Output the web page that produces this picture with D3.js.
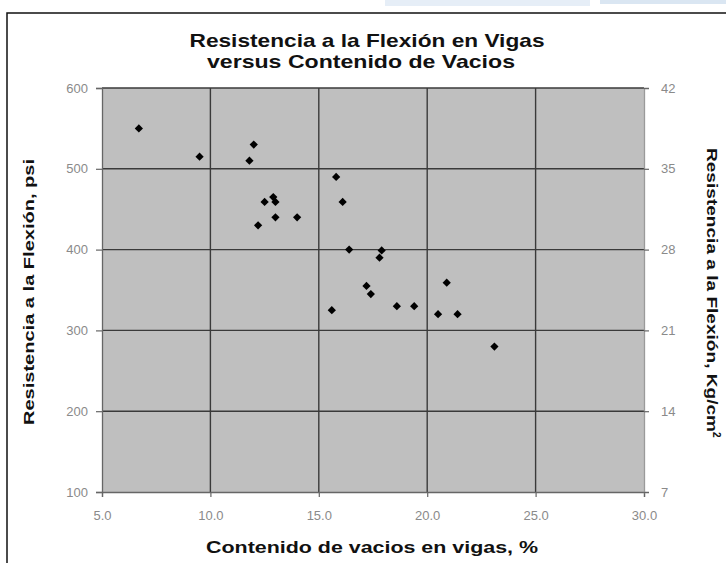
<!doctype html>
<html lang="es">
<head>
<meta charset="utf-8">
<title>Resistencia a la Flexión vs Contenido de Vacios</title>
<script src="https://d3js.org/d3.v7.min.js"></script>
<style>
  body { margin: 0; background: #fff; }
  text { font-family: "Liberation Sans", Arial, Helvetica, sans-serif; }
</style>
</head>
<body>
<div id="chart"></div>
<script>
// data
var vacios = [6.7, 9.5, 12.0, 11.8, 12.5, 12.9, 13.0, 13.0, 14.0, 12.2, 15.8, 16.1, 16.4, 17.9, 17.8, 17.2, 17.4, 15.6, 18.6, 19.4, 20.9, 20.5, 21.4, 23.1];
var resistencia = [550, 515, 530, 510, 459, 465, 459, 440, 440, 430, 490, 459, 400, 399, 390, 355, 345, 325, 330, 330, 359, 320, 320, 280];
var xTicks = [5, 10, 15, 20, 25, 30];
var yTicks = [100, 200, 300, 400, 500, 600];
var y2Ticks = [7, 14, 21, 28, 35, 42];

var W = 726, H = 563;
var margin = {left: 102, right: 82, top: 88, bottom: 71};

var svg = d3.select('#chart').append('svg')
  .attr('width', W)
  .attr('height', H);

// faint blue shapes above the frame
svg.append('rect')
  .attr('x', 385).attr('y', 0).attr('width', 205).attr('height', 6)
  .attr('fill', '#e6eef7');
svg.append('rect')
  .attr('x', 600).attr('y', 0).attr('width', 126).attr('height', 4)
  .attr('fill', '#dae6f2');

// outer frame (cut off on the right and bottom like the picture)
svg.append('rect')
  .attr('x', 7).attr('y', 13)
  .attr('width', 740).attr('height', 570)
  .attr('fill', 'none')
  .attr('stroke', '#111')
  .attr('stroke-width', 1.5);

var x = d3.scaleLinear().domain([5, 30]).range([margin.left, W - margin.right]);
var y = d3.scaleLinear().domain([100, 600]).range([H - margin.bottom, margin.top]);
var y2 = d3.scaleLinear().domain([7, 42]).range([H - margin.bottom, margin.top]);

// plot area
svg.append('rect')
  .attr('x', x(5)).attr('y', y(600))
  .attr('width', x(30) - x(5)).attr('height', y(100) - y(600))
  .attr('fill', '#bfbfbf');

// gridlines
svg.append('g').selectAll('line')
  .data(yTicks.slice(1))
  .enter().append('line')
  .attr('x1', x(5)).attr('x2', x(30))
  .attr('y1', function(d) { return y(d); })
  .attr('y2', function(d) { return y(d); })
  .attr('stroke', '#3a3a3a')
  .attr('stroke-width', 1.4);

svg.append('g').selectAll('line')
  .data(xTicks.slice(1, -1))
  .enter().append('line')
  .attr('y1', y(600)).attr('y2', y(100))
  .attr('x1', function(d) { return x(d); })
  .attr('x2', function(d) { return x(d); })
  .attr('stroke', '#3a3a3a')
  .attr('stroke-width', 1.4);

// axes
var xAxis = d3.axisBottom(x).tickValues(xTicks).tickFormat(d3.format('.1f')).tickSize(5).tickPadding(14);
var yAxis = d3.axisLeft(y).tickValues(yTicks).tickSize(6).tickPadding(8);
var y2Axis = d3.axisRight(y2).tickValues(y2Ticks).tickSize(5).tickPadding(12);

function styleAxis(g) {
  g.select('.domain').attr('stroke', '#666').attr('stroke-width', 1.3);
  g.selectAll('.tick line').attr('stroke', '#666').attr('stroke-width', 1.2);
  g.selectAll('.tick text')
    .attr('fill', '#8a8a8a')
    .style('font-size', '13px')
    .style('font-family', '"Liberation Sans", Arial, sans-serif');
}

svg.append('g')
  .attr('transform', 'translate(0,' + y(100) + ')')
  .call(xAxis).call(styleAxis);

svg.append('g')
  .attr('transform', 'translate(' + x(5) + ',0)')
  .call(yAxis).call(styleAxis);

svg.append('g')
  .attr('transform', 'translate(' + x(30) + ',0)')
  .call(y2Axis).call(styleAxis)
  .select('.domain').attr('stroke', '#9a9a9a');

// points: small square diamonds
svg.append('g').selectAll('path')
  .data(vacios)
  .enter().append('path')
  .attr('d', d3.symbol().type(d3.symbolSquare).size(34))
  .attr('transform', function(d, i) { return 'translate(' + x(d) + ',' + y(resistencia[i]) + ') rotate(45)'; })
  .attr('fill', '#000');

// title
svg.append('text')
  .attr('x', 367).attr('y', 47)
  .style('text-anchor', 'middle')
  .style('font-size', '19px')
  .style('font-weight', 'bold')
  .attr('fill', '#111')
  .attr('textLength', 355)
  .attr('lengthAdjust', 'spacingAndGlyphs')
  .text('Resistencia a la Flexión en Vigas');

svg.append('text')
  .attr('x', 361).attr('y', 68)
  .style('text-anchor', 'middle')
  .style('font-size', '19px')
  .style('font-weight', 'bold')
  .attr('fill', '#111')
  .attr('textLength', 308)
  .attr('lengthAdjust', 'spacingAndGlyphs')
  .text('versus Contenido de Vacios');

// x axis label
svg.append('text')
  .attr('x', 372).attr('y', 553)
  .style('text-anchor', 'middle')
  .style('font-size', '16px')
  .style('font-weight', 'bold')
  .attr('fill', '#111')
  .attr('textLength', 332)
  .attr('lengthAdjust', 'spacingAndGlyphs')
  .text('Contenido de vacios en vigas, %');

// y axis label (left)
svg.append('text')
  .attr('transform', 'translate(34,' + 292 + ') rotate(-90)')
  .style('text-anchor', 'middle')
  .style('font-size', '15px')
  .style('font-weight', 'bold')
  .attr('fill', '#111')
  .attr('textLength', 266)
  .attr('lengthAdjust', 'spacingAndGlyphs')
  .text('Resistencia a la Flexión, psi');

// y axis label (right)
var rl = svg.append('text')
  .attr('transform', 'translate(707,' + 148 + ') rotate(90)')
  .style('font-size', '15px')
  .style('font-weight', 'bold')
  .attr('fill', '#111');
rl.append('tspan')
  .attr('textLength', 284)
  .attr('lengthAdjust', 'spacingAndGlyphs')
  .text('Resistencia a la Flexión, Kg/cm');
rl.append('tspan').attr('dy', -6).style('font-size', '10px').text('2');
</script>
</body>
</html>
